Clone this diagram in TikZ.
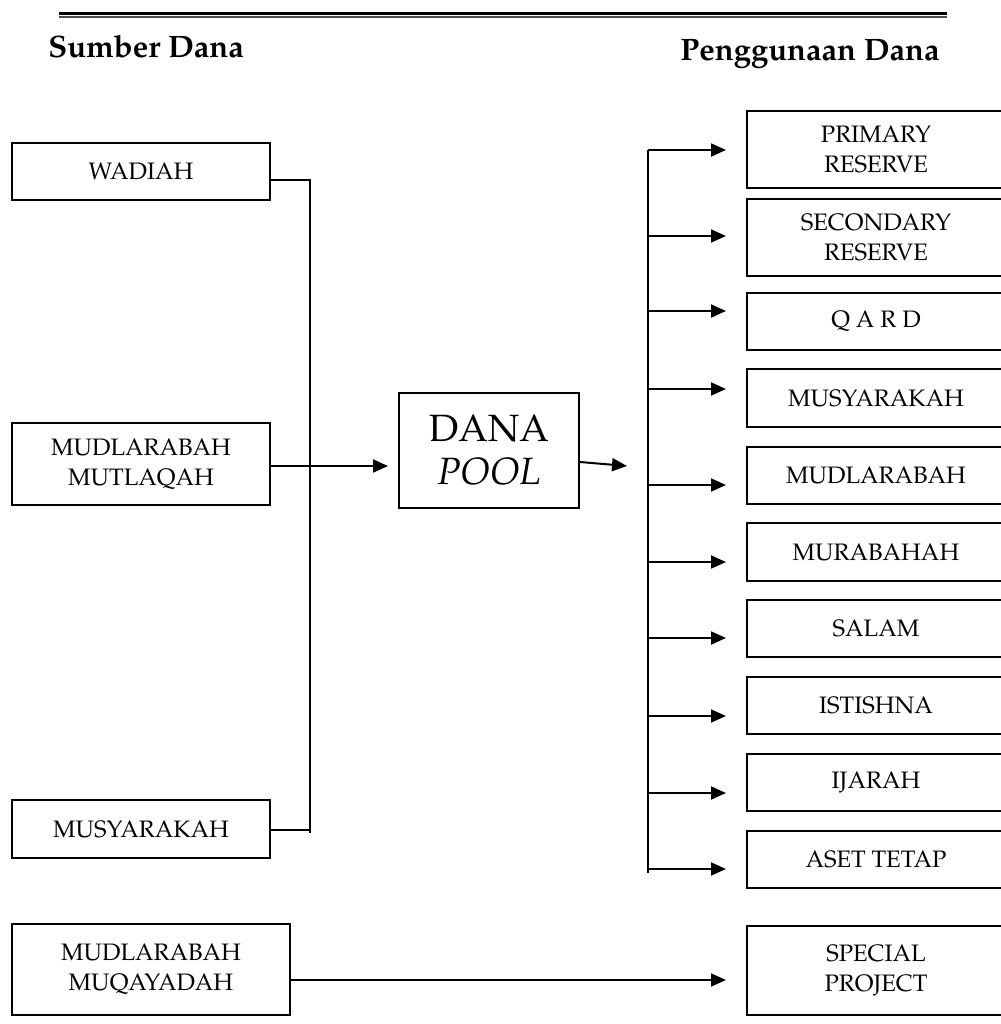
\documentclass[tikz,border=0pt]{standalone}
\usepackage[T1]{fontenc}
\renewcommand{\rmdefault}{ppl}
\usetikzlibrary{arrows.meta}

\begin{document}
\begin{tikzpicture}[x=0.5pt,y=-0.5pt,
  box/.style={draw,line width=1pt,inner sep=0pt,align=center,
    font=\fontsize{11.9}{15}\selectfont},
  link/.style={line width=1pt},
  arr/.style={line width=1pt,-{Triangle[length=7.5pt,width=6.5pt]}},
  head/.style={font=\fontsize{15.5}{18}\selectfont\bfseries,inner sep=0pt}]
\useasboundingbox (0,0) rectangle (1001,1024);

% double rule at the top of the page
\draw[line width=1.9pt] (59,13.5) -- (947,13.5);
\draw[line width=0.6pt,black!70] (59,17) -- (947,17);

% column headings
\node[head,anchor=base west] (hsrc) at (48,57) {Sumber Dana};
\node[head,anchor=base east] (huse) at (940,60) {Penggunaan Dana};

% sources of funds
\node[box,minimum width=129pt,minimum height=28.5pt] (wad)  at (141,171.5) {WADIAH};
\node[box,minimum width=129pt,minimum height=41pt]   (mm)   at (141,464)   {MUDLARABAH\\MUTLAQAH};
\node[box,minimum width=129pt,minimum height=29pt]   (musL) at (141,829)   {MUSYARAKAH};
\node[box,minimum width=139pt,minimum height=45.5pt] (mq)   at (151,969.5) {MUDLARABAH\\MUQAYADAH};

% pooled funds
\node[box,minimum width=90pt,minimum height=57.5pt,
  font=\fontsize{19}{21.5}\selectfont] (pool) at (489,450.5) {DANA\\\textit{POOL}};

% uses of funds
\node[box,minimum width=129pt,minimum height=38.5pt] (pr)   at (876,149.5) {PRIMARY\\RESERVE};
\node[box,minimum width=129pt,minimum height=38.5pt] (sr)   at (876,237.5) {SECONDARY\\RESERVE};
\node[box,minimum width=129pt,minimum height=28.5pt] (qard) at (876,321.5) {Q A R D};
\node[box,minimum width=129pt,minimum height=29pt]   (musR) at (876,398)   {MUSYARAKAH};
\node[box,minimum width=129pt,minimum height=28.5pt] (mud)  at (876,475.5) {MUDLARABAH};
\node[box,minimum width=129pt,minimum height=29pt]   (mur)  at (876,552)   {MURABAHAH};
\node[box,minimum width=129pt,minimum height=28.5pt] (sal)  at (876,628.5) {SALAM};
\node[box,minimum width=129pt,minimum height=28.5pt] (ist)  at (876,705.5) {ISTISHNA};
\node[box,minimum width=129pt,minimum height=28.5pt] (ija)  at (876,782.5) {IJARAH};
\node[box,minimum width=129pt,minimum height=28.5pt] (aset) at (876,859.5) {ASET TETAP};
\node[box,minimum width=129pt,minimum height=44.5pt] (sp)   at (876,970.5) {SPECIAL\\PROJECT};

% collecting line on the left
\coordinate (jTop) at (310,180);
\coordinate (jMus) at (310,830);
\coordinate (jBot) at (310,833);
\draw[link] (wad.east |- jTop) -- (jTop) -- (jBot);
\draw[link] (musL.east |- jMus) -- (jMus);

% into and out of the pool
\coordinate (inTip) at (388,466);
\draw[arr] (mm.east |- inTip) -- (inTip);
\coordinate (outS) at (579,462);
\coordinate (outT) at (627,466);
\draw[arr] (pool.east |- outS) -- (outT);

% distribution line on the right
\coordinate (busT) at (648,150);
\coordinate (busB) at (648,873);
\draw[link] (busT) -- (busB);
\foreach \n/\y in {pr/150,sr/236,qard/311,musR/389,mud/485,mur/562,sal/638,ist/716,ija/793,aset/869}
  \draw[arr,shorten >=10pt] (busT |- 0,\y) -- (\n.west |- 0,\y);

% restricted funds go straight to the special project
\draw[arr,shorten >=10pt] (mq.east |- 0,980) -- (sp.west |- 0,980);
\end{tikzpicture}
\end{document}
